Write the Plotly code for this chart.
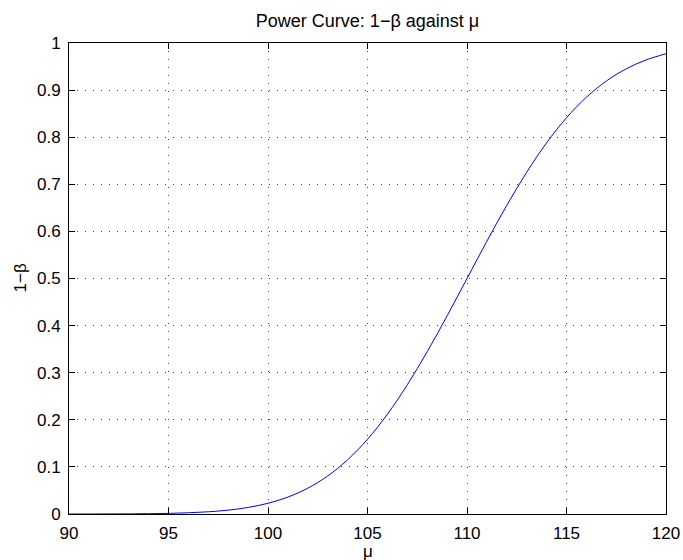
import plotly.graph_objects as go

mu = list(range(90, 121))
power = [0.00003, 0.00007, 0.00016, 0.00034, 0.0007, 0.0013, 0.0026, 0.0047, 0.0082, 0.0139,
         0.0228, 0.0359, 0.0548, 0.0808, 0.1151, 0.1587, 0.2119, 0.2743, 0.3446, 0.4207,
         0.5, 0.5793, 0.6554, 0.7257, 0.7881, 0.8413, 0.8849, 0.9192, 0.9452, 0.9641, 0.9772]

x_ticks = [90, 95, 100, 105, 110, 115, 120]
y_ticks = [0, 0.1, 0.2, 0.3, 0.4, 0.5, 0.6, 0.7, 0.8, 0.9, 1]
y_labels = ["0", "0.1", "0.2", "0.3", "0.4", "0.5", "0.6", "0.7", "0.8", "0.9", "1"]

W, H = 683, 560
L, R, T, B = 69, 17, 43, 46

fig = go.Figure()
fig.add_trace(go.Scatter(x=mu, y=power, mode="lines", line=dict(color="#0000ff", width=1, shape="spline"),
                         showlegend=False, hoverinfo="skip"))

FAM = "Liberation Sans, Arial, sans-serif"
font = dict(family=FAM, size=17, color="black")
axis_common = dict(showline=True, linecolor="black", linewidth=1, mirror="ticks",
                   ticks="inside", ticklen=6, tickcolor="black", tickwidth=1,
                   showgrid=True, gridcolor="#444444", griddash="1px,7px", gridwidth=1,
                   zeroline=False, tickfont=font, automargin=False)

fig.update_layout(
    width=W, height=H,
    margin=dict(l=L, r=R, t=T, b=B),
    paper_bgcolor="white", plot_bgcolor="white",
    title=dict(text="Power Curve: 1\u2212\u03b2 against \u03bc", x=(L + (W - R)) / 2 / W, xanchor="center",
               y=1 - 21 / H, yanchor="middle", font=dict(family=FAM, size=18, color="black")),
    xaxis=dict(range=[90, 120], tickvals=x_ticks, ticktext=[str(v) for v in x_ticks],
               ticklabelstandoff=4, **axis_common),
    yaxis=dict(range=[0, 1], tickvals=y_ticks, ticktext=y_labels,
               ticklabelstandoff=4, **axis_common),
    annotations=[
        dict(text="\u03bc", xref="paper", yref="paper", x=0.5, y=-(551 - (H - B)) / (H - T - B),
             xanchor="center", yanchor="middle", showarrow=False, font=font),
        dict(text="1\u2212\u03b2", xref="paper", yref="paper", x=-(L - 20) / (W - L - R), y=0.5,
             xanchor="center", yanchor="middle", showarrow=False, textangle=-90, font=font),
    ],
)

fig.write_html("out.html", config={"displayModeBar": False},
               post_script="document.body.style.margin='0';document.body.style.overflow='hidden';")
